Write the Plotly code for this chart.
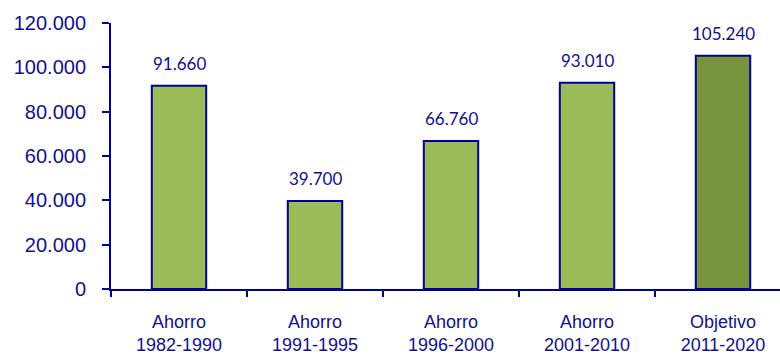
import plotly.graph_objects as go

categories = ["Ahorro<br>1982-1990", "Ahorro<br>1991-1995", "Ahorro<br>1996-2000",
              "Ahorro<br>2001-2010", "Objetivo<br>2011-2020"]
values = [91660, 39700, 66760, 93010, 105240]
value_labels = ["91.660", "39.700", "66.760", "93.010", "105.240"]
bar_colors = ["#9BBB59", "#9BBB59", "#9BBB59", "#9BBB59", "#77933C"]
y_ticks = [0, 20000, 40000, 60000, 80000, 100000, 120000]
y_tick_labels = ["0", "20.000", "40.000", "60.000", "80.000", "100.000", "120.000"]

navy = "#000099"
text_col = "#101090"

fig = go.Figure()
fig.add_trace(go.Bar(
    x=categories, y=values,
    marker=dict(color=bar_colors, line=dict(color=navy, width=2)),
    width=0.4,
))

for c, v, t in zip(categories, values, value_labels):
    fig.add_annotation(x=c, y=v, text=t, showarrow=False, yanchor="bottom",
                       yshift=10, font=dict(family="Lato", size=17, color=text_col))

fig.update_layout(
    width=780, height=358,
    margin=dict(l=111, r=0, t=23, b=69),
    paper_bgcolor="white", plot_bgcolor="white",
    showlegend=False,
    bargap=0.6,
)
fig.update_xaxes(
    range=[-0.5, 4.419], automargin=False,
    showline=True, linecolor=navy, linewidth=2,
    ticks="outside", tickson="boundaries", ticklen=6, tickcolor=navy, tickwidth=2,
    ticklabelstandoff=15,
    tickfont=dict(family="Liberation Sans", size=18, color=text_col),
    showgrid=False, zeroline=False,
)
fig.update_yaxes(
    range=[0, 120000], automargin=False,
    tickvals=y_ticks, ticktext=y_tick_labels,
    showline=True, linecolor=navy, linewidth=2,
    ticks="outside", ticklen=7, tickcolor=navy, tickwidth=2,
    ticklabelstandoff=12,
    tickfont=dict(family="Liberation Sans", size=20, color=text_col),
    showgrid=False, zeroline=False,
)

fig.write_html("out.html", config={"displayModeBar": False},
               post_script="document.body.style.margin='0';")
